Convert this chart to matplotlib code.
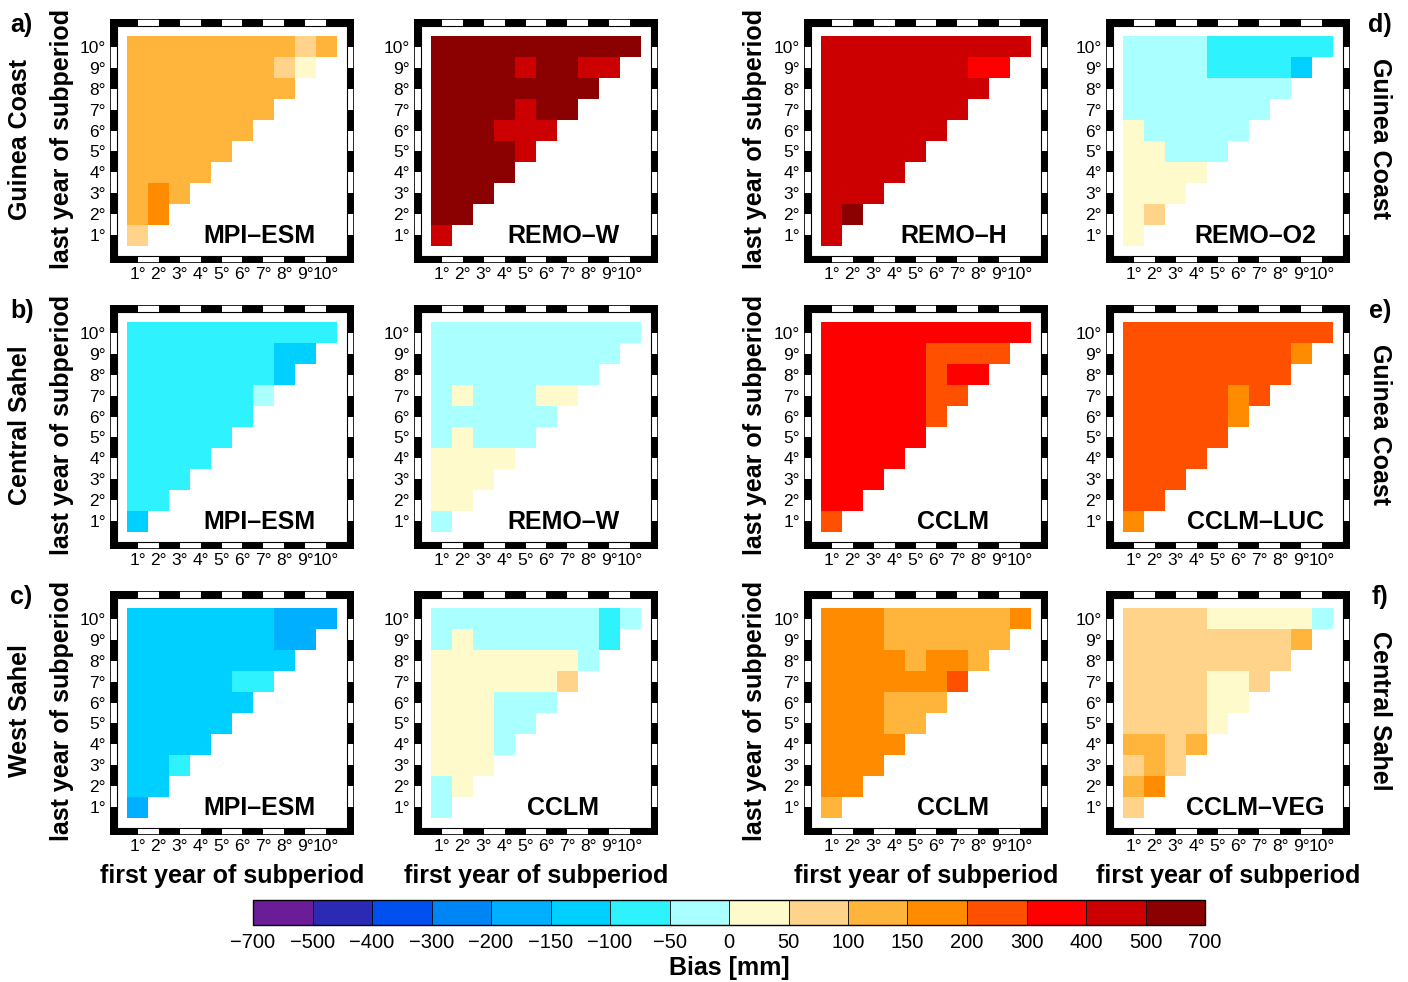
import numpy as np
import matplotlib
matplotlib.use("Agg")
import matplotlib.pyplot as plt
from matplotlib.colors import ListedColormap, BoundaryNorm
from matplotlib.patches import Rectangle
import matplotlib.cm as cm

plt.rcParams['font.family'] = ['Liberation Sans', 'DejaVu Sans']

# ---------------- data ----------------
bounds = [-700, -500, -400, -300, -200, -150, -100, -50, 0, 50, 100, 150, 200, 300, 400, 500, 700]
bin_colors = ['#6a1d96', '#2a2ab4', '#0050f0', '#0085f5', '#00afff', '#00d0ff', '#2ff2ff', '#aaffff',
              '#fffacc', '#ffd48a', '#ffb43c', '#ff8c00', '#ff5000', '#ff0000', '#cc0000', '#8b0000']
year_labels = ['1°', '2°', '3°', '4°', '5°', '6°', '7°', '8°', '9°', '10°']

# rows: last year 10 (top) down to 1; row j holds first years 1..j
gc_mpi = [
    [125, 125, 125, 125, 125, 125, 125, 125, 75, 125],
    [125, 125, 125, 125, 125, 125, 125, 75, 25],
    [125, 125, 125, 125, 125, 125, 125, 125],
    [125, 125, 125, 125, 125, 125, 125],
    [125, 125, 125, 125, 125, 125],
    [125, 125, 125, 125, 125],
    [125, 125, 125, 125],
    [125, 175, 125],
    [125, 175],
    [75]]
gc_remow = [
    [600, 600, 600, 600, 600, 600, 600, 600, 600, 600],
    [600, 600, 600, 600, 450, 600, 600, 450, 450],
    [600, 600, 600, 600, 600, 600, 600, 600],
    [600, 600, 600, 600, 450, 600, 600],
    [600, 600, 600, 450, 450, 450],
    [600, 600, 600, 600, 450],
    [600, 600, 600, 600],
    [600, 600, 600],
    [600, 600],
    [450]]
gc_remoh = [
    [450, 450, 450, 450, 450, 450, 450, 450, 450, 450],
    [450, 450, 450, 450, 450, 450, 450, 350, 350],
    [450, 450, 450, 450, 450, 450, 450, 450],
    [450, 450, 450, 450, 450, 450, 450],
    [450, 450, 450, 450, 450, 450],
    [450, 450, 450, 450, 450],
    [450, 450, 450, 450],
    [450, 450, 450],
    [450, 600],
    [450]]
gc_remoo2 = [
    [-25, -25, -25, -25, -75, -75, -75, -75, -75, -75],
    [-25, -25, -25, -25, -75, -75, -75, -75, -125],
    [-25, -25, -25, -25, -25, -25, -25, -25],
    [-25, -25, -25, -25, -25, -25, -25],
    [25, -25, -25, -25, -25, -25],
    [25, 25, -25, -25, -25],
    [25, 25, 25, 25],
    [25, 25, 25],
    [25, 75],
    [25]]
cs_mpi = [
    [-75, -75, -75, -75, -75, -75, -75, -75, -75, -75],
    [-75, -75, -75, -75, -75, -75, -75, -125, -125],
    [-75, -75, -75, -75, -75, -75, -75, -125],
    [-75, -75, -75, -75, -75, -75, -25],
    [-75, -75, -75, -75, -75, -75],
    [-75, -75, -75, -75, -75],
    [-75, -75, -75, -75],
    [-75, -75, -75],
    [-75, -75],
    [-125]]
cs_remow = [
    [-25, -25, -25, -25, -25, -25, -25, -25, -25, -25],
    [-25, -25, -25, -25, -25, -25, -25, -25, -25],
    [-25, -25, -25, -25, -25, -25, -25, -25],
    [-25, 25, -25, -25, -25, 25, 25],
    [-25, -25, -25, -25, -25, -25],
    [-25, 25, -25, -25, -25],
    [25, 25, 25, 25],
    [25, 25, 25],
    [25, 25],
    [-25]]
gc_cclm = [
    [350, 350, 350, 350, 350, 350, 350, 350, 350, 350],
    [350, 350, 350, 350, 350, 250, 250, 250, 250],
    [350, 350, 350, 350, 350, 250, 350, 350],
    [350, 350, 350, 350, 350, 250, 250],
    [350, 350, 350, 350, 350, 250],
    [350, 350, 350, 350, 350],
    [350, 350, 350, 350],
    [350, 350, 350],
    [350, 350],
    [250]]
gc_cclmluc = [
    [250, 250, 250, 250, 250, 250, 250, 250, 250, 250],
    [250, 250, 250, 250, 250, 250, 250, 250, 175],
    [250, 250, 250, 250, 250, 250, 250, 250],
    [250, 250, 250, 250, 250, 175, 250],
    [250, 250, 250, 250, 250, 175],
    [250, 250, 250, 250, 250],
    [250, 250, 250, 250],
    [250, 250, 250],
    [250, 250],
    [175]]
ws_mpi = [
    [-125, -125, -125, -125, -125, -125, -125, -175, -175, -175],
    [-125, -125, -125, -125, -125, -125, -125, -175, -175],
    [-125, -125, -125, -125, -125, -125, -125, -125],
    [-125, -125, -125, -125, -125, -75, -75],
    [-125, -125, -125, -125, -125, -125],
    [-125, -125, -125, -125, -125],
    [-125, -125, -125, -125],
    [-125, -125, -75],
    [-125, -125],
    [-175]]
ws_cclm = [
    [-25, -25, -25, -25, -25, -25, -25, -25, -75, -25],
    [-25, 25, -25, -25, -25, -25, -25, -25, -75],
    [25, 25, 25, 25, 25, 25, 25, -25],
    [25, 25, 25, 25, 25, 25, 75],
    [25, 25, 25, -25, -25, -25],
    [25, 25, 25, -25, -25],
    [25, 25, 25, -25],
    [25, 25, 25],
    [-25, 25],
    [-25]]
cs_cclm = [
    [175, 175, 175, 125, 125, 125, 125, 125, 125, 175],
    [175, 175, 175, 125, 125, 125, 125, 125, 125],
    [175, 175, 175, 175, 125, 175, 175, 125],
    [175, 175, 175, 175, 175, 175, 250],
    [175, 175, 175, 125, 125, 125],
    [175, 175, 175, 125, 125],
    [175, 175, 175, 175],
    [175, 175, 175],
    [175, 175],
    [125]]
cs_cclmveg = [
    [75, 75, 75, 75, 25, 25, 25, 25, 25, -25],
    [75, 75, 75, 75, 75, 75, 75, 75, 125],
    [75, 75, 75, 75, 75, 75, 75, 75],
    [75, 75, 75, 75, 25, 25, 75],
    [75, 75, 75, 75, 25, 25],
    [75, 75, 75, 75, 25],
    [125, 125, 75, 125],
    [75, 125, 75],
    [125, 175],
    [75]]

panels = [
    [(gc_mpi, 'MPI–ESM'), (gc_remow, 'REMO–W'), (gc_remoh, 'REMO–H'), (gc_remoo2, 'REMO–O2')],
    [(cs_mpi, 'MPI–ESM'), (cs_remow, 'REMO–W'), (gc_cclm, 'CCLM'), (gc_cclmluc, 'CCLM–LUC')],
    [(ws_mpi, 'MPI–ESM'), (ws_cclm, 'CCLM'), (cs_cclm, 'CCLM'), (cs_cclmveg, 'CCLM–VEG')],
]
left_regions = [('a)', 'Guinea Coast'), ('b)', 'Central Sahel'), ('c)', 'West Sahel')]
right_regions = [('d)', 'Guinea Coast'), ('e)', 'Guinea Coast'), ('f)', 'Central Sahel')]

# ---------------- figure ----------------
W, H = 1408, 982
fig = plt.figure(figsize=(W / 100, H / 100), dpi=100)

cmap = ListedColormap(bin_colors)
norm = BoundaryNorm(bounds, cmap.N)

col_x = [110, 414, 804, 1106]
row_y = [19, 305, 591]
S = 244
B = 0.33  # band thickness in data units


def to_matrix(rows):
    m = np.full((10, 10), np.nan)
    for r, vals in enumerate(rows):
        last = 10 - r
        for f, v in enumerate(vals):
            m[last - 1, f] = v
    return np.ma.masked_invalid(m)


def fancy_frame(ax):
    hi = 11
    for k in range(hi):
        c = 'black' if k % 2 == 0 else 'white'
        for rect in [(k, -B, 1, B), (k, hi, 1, B), (-B, k, B, 1), (hi, k, B, 1)]:
            ax.add_patch(Rectangle(rect[:2], rect[2], rect[3], facecolor=c,
                                   edgecolor='none', zorder=5))
    for cx, cy in [(-B, -B), (hi, -B), (-B, hi), (hi, hi)]:
        ax.add_patch(Rectangle((cx, cy), B, B, facecolor='black', edgecolor='none', zorder=5))
    ax.add_patch(Rectangle((-B, -B), hi + 2 * B, hi + 2 * B, fill=False,
                           edgecolor='black', lw=1.2, zorder=6))
    ax.add_patch(Rectangle((0, 0), hi, hi, fill=False, edgecolor='black', lw=0.8, zorder=6))


edges = np.arange(0.5, 11.0, 1.0)
for r in range(3):
    for c in range(4):
        rows, name = panels[r][c]
        x0, y0 = col_x[c], row_y[r]
        ax = fig.add_axes([x0 / W, 1 - (y0 + S) / H, S / W, S / H])
        ax.pcolormesh(edges, edges, to_matrix(rows), cmap=cmap, norm=norm)
        ax.set_xlim(-B, 11 + B)
        ax.set_ylim(-B, 11 + B)
        for sp in ax.spines.values():
            sp.set_visible(False)
        fancy_frame(ax)
        ax.set_xticks(range(1, 11))
        ax.set_xticklabels(year_labels, fontsize=12.5)
        ax.set_yticks(range(1, 11))
        ax.set_yticklabels(year_labels, fontsize=12.5)
        ax.tick_params(length=0, pad=3)
        ax.text(6.8, 0.62, name, ha='center', va='baseline', fontsize=18,
                fontweight='bold', zorder=7)

# left labels
for r, (lab, reg) in enumerate(left_regions):
    yc = row_y[r] + S / 2 - 2
    fig.text(10 / W, 1 - (row_y[r] + 6) / H, lab, ha='left', va='center',
             fontsize=18, fontweight='bold')
    fig.text(20 / W, 1 - yc / H, reg, rotation=90, ha='center', va='center',
             fontsize=18, fontweight='bold')
    for xl in [62, 755]:
        fig.text(xl / W, 1 - yc / H, 'last year of subperiod', rotation=90,
                 ha='center', va='center', fontsize=18, fontweight='bold')

# right labels
for r, (lab, reg) in enumerate(right_regions):
    yc = row_y[r] + S / 2 - 2
    fig.text(1380 / W, 1 - (row_y[r] + 6) / H, lab, ha='center', va='center',
             fontsize=18, fontweight='bold')
    fig.text(1380 / W, 1 - yc / H, reg, rotation=270, ha='center', va='center',
             fontsize=18, fontweight='bold')

# x labels
for c in range(4):
    fig.text((col_x[c] + S / 2) / W, 1 - 876 / H, 'first year of subperiod',
             ha='center', va='center', fontsize=18, fontweight='bold')

# colorbar
cax = fig.add_axes([253 / W, 1 - 925 / H, 952 / W, 25 / H])
sm = cm.ScalarMappable(norm=norm, cmap=cmap)
cb = fig.colorbar(sm, cax=cax, orientation='horizontal', spacing='uniform',
                  ticks=bounds, drawedges=True)
cb.outline.set_linewidth(1.0)
cb.dividers.set_linewidth(0.6)
cb.ax.set_xticklabels([str(b).replace('-', '−') for b in bounds], fontsize=14.5)
cb.ax.tick_params(length=0, pad=6)
fig.text(729 / W, 1 - 968 / H, 'Bias [mm]', ha='center', va='center',
         fontsize=18, fontweight='bold')

fig.savefig('out.png', dpi=100)
